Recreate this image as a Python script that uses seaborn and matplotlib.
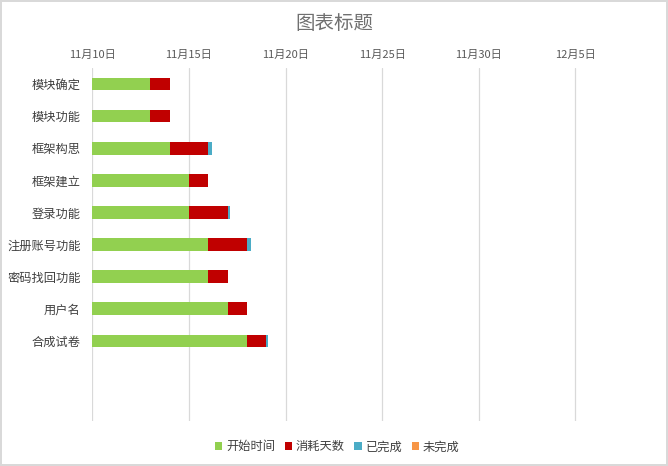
import matplotlib
matplotlib.use("Agg")
import matplotlib.pyplot as plt
import seaborn as sns
import pandas as pd
import numpy as np
from matplotlib.patches import Patch

tasks = ["模块确定", "模块功能", "框架构思", "框架建立", "登录功能",
         "注册账号功能", "密码找回功能", "用户名", "合成试卷"]
start_dates = ["2019-11-13", "2019-11-13", "2019-11-14", "2019-11-15", "2019-11-15",
               "2019-11-16", "2019-11-16", "2019-11-17", "2019-11-18"]
days_used = [1, 1, 2, 1, 2, 2, 1, 1, 1]
done = [0, 0, 0.2, 0, 0.15, 0.2, 0, 0, 0.1]
not_done = [0, 0, 0, 0, 0, 0, 0, 0, 0]
series_names = ["开始时间", "消耗天数", "已完成", "未完成"]
tick_dates = ["2019-11-10", "2019-11-15", "2019-11-20", "2019-11-25", "2019-11-30", "2019-12-05"]
tick_labels = ["11月10日", "11月15日", "11月20日", "11月25日", "11月30日", "12月5日"]

colors = ["#92D050", "#C00000", "#4BACC6", "#F79646"]

sns.set_theme(style="white")
plt.rcParams['font.family'] = ['Noto Sans CJK SC', 'DejaVu Sans']

origin = pd.Timestamp("2019-11-10")
start_off = np.array([(pd.Timestamp(d) - origin).days for d in start_dates], dtype=float)
c1 = start_off
c2 = c1 + np.array(days_used)
c3 = c2 + np.array(done)
c4 = c3 + np.array(not_done)

df = pd.DataFrame({"task": tasks, "c1": c1, "c2": c2, "c3": c3, "c4": c4})

fig = plt.figure(figsize=(6.68, 4.66), dpi=100)
ax = fig.add_axes([0.1382, 0.0966, 0.8244, 0.7574])

for col, color in zip(["c4", "c3", "c2", "c1"], colors[::-1]):
    sns.barplot(data=df, x=col, y="task", orient="h", color=color, width=0.39,
                saturation=1, ax=ax, linewidth=0, order=tasks)

ax.set_ylim(10.5, -0.5)
ax.set_xlim(0, 28.5)
ticks = [(pd.Timestamp(d) - origin).days for d in tick_dates]
ax.set_xticks(ticks)
ax.set_xticklabels(tick_labels)
ax.xaxis.tick_top()
ax.tick_params(axis="x", length=0, pad=6, labelsize=8, colors="#595959")
ax.tick_params(axis="y", length=0, pad=8.5, labelsize=8.8, colors="#404040")
ax.set_xlabel("")
ax.set_ylabel("")
ax.grid(axis="x", color="#d9d9d9", linewidth=0.9)
ax.set_axisbelow(True)
for s in ax.spines.values():
    s.set_visible(False)

fig.text(0.5, 0.949, "图表标题", ha="center", va="center", fontsize=14, color="#707070")

handles = [Patch(facecolor=c, edgecolor="none") for c in colors]
fig.legend(handles, series_names, loc="center", bbox_to_anchor=(0.505, 0.041), ncol=4,
           frameon=False, fontsize=8.8, handlelength=0.6, handleheight=0.6,
           handletextpad=0.3, columnspacing=0.8, labelcolor="#404040")

fig.patch.set_edgecolor("#d9d9d9")
fig.patch.set_linewidth(1.5)
fig.savefig("out.png", dpi=100, edgecolor=fig.get_edgecolor())
